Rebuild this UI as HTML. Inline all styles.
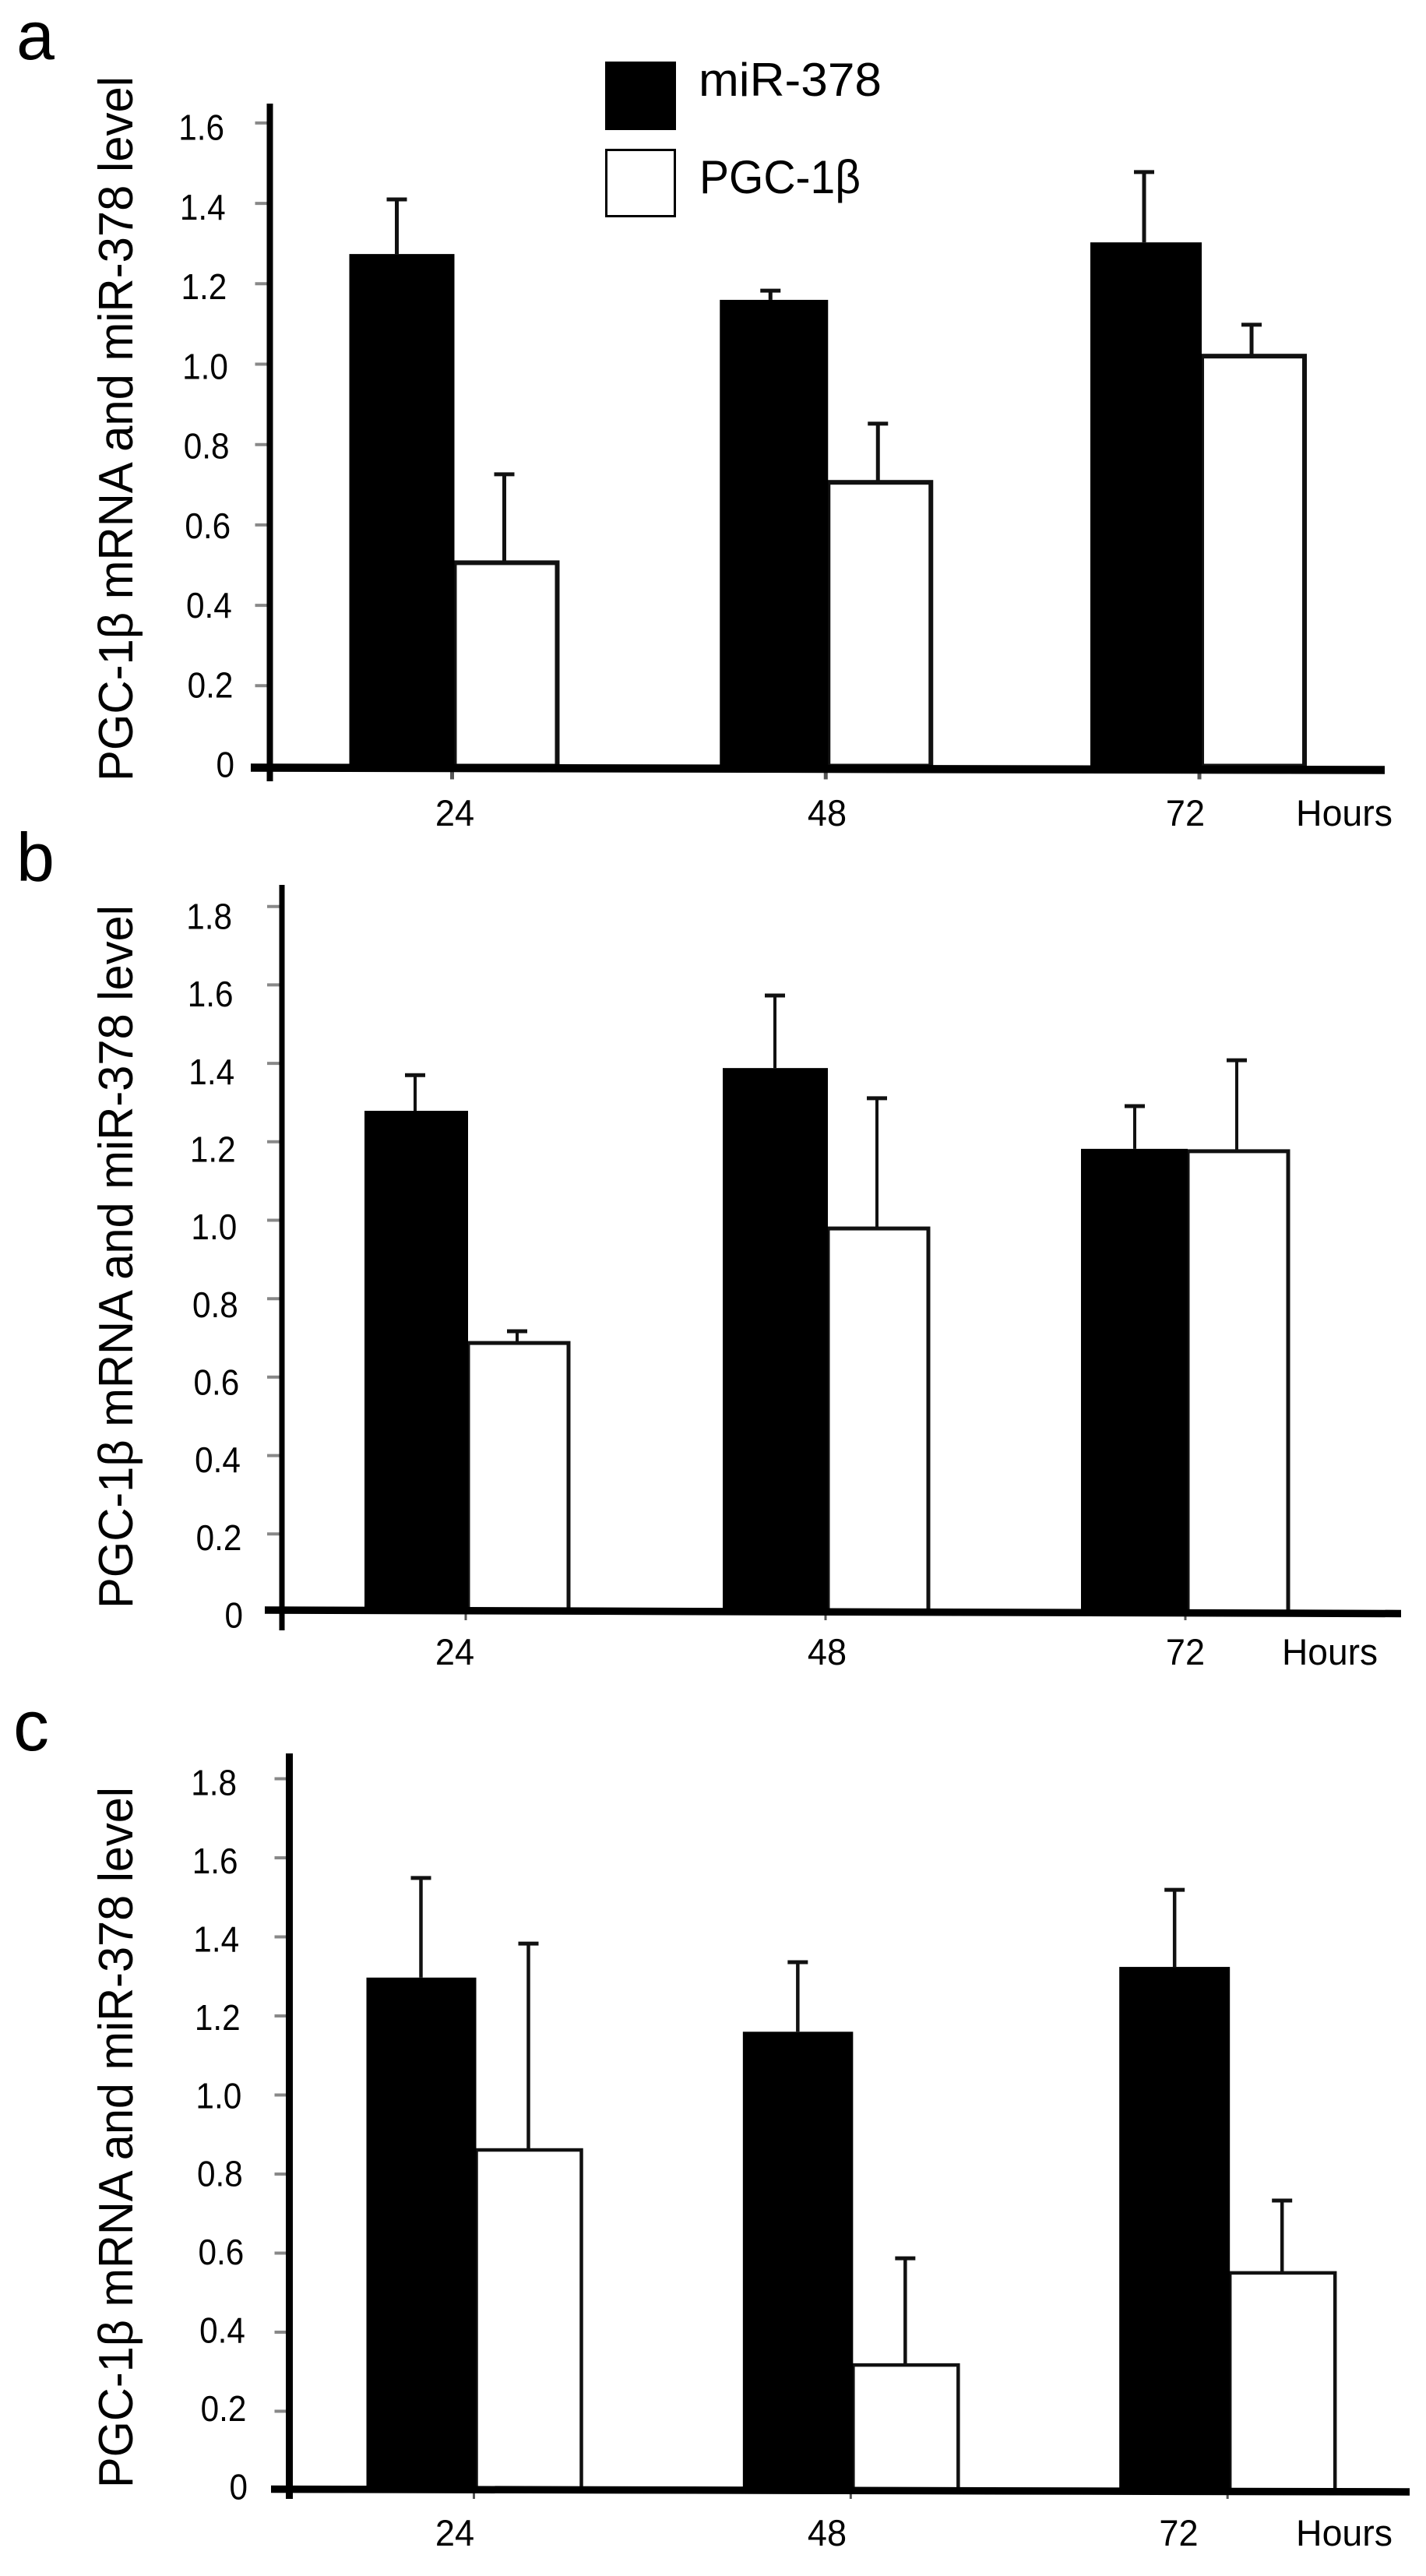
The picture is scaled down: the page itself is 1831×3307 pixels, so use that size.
<!DOCTYPE html>
<html lang="en">
<head>
<meta charset="utf-8">
<title>PGC-1β mRNA and miR-378 level</title>
<style>
  html, body { margin: 0; padding: 0; background: #fff; }
  svg { display: block; }
  text { font-family: "Liberation Sans", "DejaVu Sans", sans-serif; fill: #000; }
</style>
</head>
<body>
<svg id="figure" xmlns="http://www.w3.org/2000/svg" width="1831" height="3307" viewBox="0 0 1831 3307">
  <rect x="0" y="0" width="1831" height="3307" fill="#fff"/>

  <text x="21" y="76" font-size="88">a</text>
  <text x="21" y="1131" font-size="88">b</text>
  <text x="17" y="2247" font-size="92">c</text>

  <text transform="translate(170 1003) rotate(-90)" font-size="62" textLength="905" lengthAdjust="spacingAndGlyphs">PGC-1β mRNA and miR-378 level</text>
  <text transform="translate(170 2065) rotate(-90)" font-size="62" textLength="903" lengthAdjust="spacingAndGlyphs">PGC-1β mRNA and miR-378 level</text>
  <text transform="translate(170 3194) rotate(-90)" font-size="62" textLength="900" lengthAdjust="spacingAndGlyphs">PGC-1β mRNA and miR-378 level</text>

  <g>
    <rect x="777" y="79" width="91" height="88" fill="#000"/>
    <text x="897" y="123" font-size="60" textLength="235" lengthAdjust="spacingAndGlyphs">miR-378</text>
    <rect x="778.5" y="192.5" width="88" height="85" fill="#fff" stroke="#000" stroke-width="3"/>
    <text x="898" y="248" font-size="60" textLength="207" lengthAdjust="spacingAndGlyphs">PGC-1β</text>
  </g>

  <text x="1664" y="1060" font-size="47" textLength="124" lengthAdjust="spacingAndGlyphs">Hours</text>
  <text x="1646" y="2137" font-size="47" textLength="123" lengthAdjust="spacingAndGlyphs">Hours</text>
  <text x="1664" y="3268" font-size="47" textLength="124" lengthAdjust="spacingAndGlyphs">Hours</text>

  <g id="charts"></g>
</svg>

<script>
// Shared categories (hours)
const hours = [24, 48, 72];
const hourLabels = ['24', '48', '72'];

// Panel a
const aTickValues = [1.6, 1.4, 1.2, 1.0, 0.8, 0.6, 0.4, 0.2, 0];
const aTickLabels = ['1.6', '1.4', '1.2', '1.0', '0.8', '0.6', '0.4', '0.2', '0'];
const aMir = [1.274, 1.16, 1.303];
const aMirErr = [1.41, 1.183, 1.478];
const aPgc = [0.506, 0.706, 1.02];
const aPgcErr = [0.726, 0.852, 1.098];

// Panel b
const bTickValues = [1.8, 1.6, 1.4, 1.2, 1.0, 0.8, 0.6, 0.4, 0.2, 0];
const bTickLabels = ['1.8', '1.6', '1.4', '1.2', '1.0', '0.8', '0.6', '0.4', '0.2', '0'];
const bMir = [1.279, 1.388, 1.182];
const bMirErr = [1.37, 1.573, 1.291];
const bPgc = [0.687, 0.979, 1.176];
const bPgcErr = [0.717, 1.311, 1.408];

// Panel c
const cTickValues = [1.8, 1.6, 1.4, 1.2, 1.0, 0.8, 0.6, 0.4, 0.2, 0];
const cTickLabels = ['1.8', '1.6', '1.4', '1.2', '1.0', '0.8', '0.6', '0.4', '0.2', '0'];
const cMir = [1.297, 1.16, 1.324];
const cMirErr = [1.549, 1.336, 1.519];
const cPgc = [0.861, 0.317, 0.55];
const cPgcErr = [1.383, 0.587, 0.733];

const NS = 'http://www.w3.org/2000/svg';
const root = document.getElementById('charts');

function make(tag, parent, attrs) {
  const el = document.createElementNS(NS, tag);
  for (const k in attrs) el.setAttribute(k, attrs[k]);
  parent.appendChild(el);
  return el;
}

function drawPanel(id, layout, tickValues, tickLabels, mir, mirErr, pgc, pgcErr) {
  const g = make('g', root, {});
  
  

  // axis functions
  const y = v => layout.zeroY - layout.pxPerUnit * v;
  const x = h => layout.x24 + (h - 24) * layout.pxPerHour;
  const mirWidth = h => layout.mirW24 + (layout.mirW72 - layout.mirW24) * (h - 24) / 48;

  // y tick marks and labels
  tickValues.forEach((v, i) => {
    if (v !== 0) {
      const tick = make('line', g, { x1: layout.axisX - 19, x2: layout.axisX, y1: y(v), y2: y(v), stroke: '#888', 'stroke-width': 4 });
      
      
    }
    const t = i / (tickValues.length - 1);
    const label = make('text', g, {
      x: layout.labelRightTop + (layout.labelRightBottom - layout.labelRightTop) * t,
      y: layout.labelTop + (layout.labelBottom - layout.labelTop) * t + 16.5,
      'font-size': 46,
      'text-anchor': 'end'
    });
    label.textContent = tickLabels[i];
    
    
    label.setAttribute('textLength', (label.getComputedTextLength() * 0.92).toFixed(1));
    label.setAttribute('lengthAdjust', 'spacingAndGlyphs');
  });

  // bars and error bars
  hours.forEach((h, i) => {
    const cx = x(h);
    const base = y(0);
    const mw = mirWidth(h);
    const mirX = cx + layout.mirStem;
    const pgcX = cx + layout.pgcStem;

    const mirStem = make('line', g, { x1: mirX, x2: mirX, y1: y(mirErr[i]), y2: y(mir[i]), stroke: '#111', 'stroke-width': layout.stem });
    
    
    const mirCap = make('line', g, { x1: mirX - 13, x2: mirX + 13, y1: y(mirErr[i]), y2: y(mirErr[i]), stroke: '#111', 'stroke-width': 5 });
    
    

    const pgcStem = make('line', g, { x1: pgcX, x2: pgcX, y1: y(pgcErr[i]), y2: y(pgc[i]), stroke: '#111', 'stroke-width': layout.stem });
    
    
    const pgcCap = make('line', g, { x1: pgcX - 13, x2: pgcX + 13, y1: y(pgcErr[i]), y2: y(pgcErr[i]), stroke: '#111', 'stroke-width': 5 });
    
    

    const pgcBar = make('rect', g, { x: cx, y: y(pgc[i]), width: layout.pgcW, height: base - y(pgc[i]), fill: '#fff', stroke: '#111', 'stroke-width': layout.border });
    
    

    const mirBar = make('rect', g, { x: cx - mw, y: y(mir[i]), width: mw, height: base - y(mir[i]), fill: '#000' });
    
    

    const xTick = make('line', g, { x1: cx - 3, x2: cx - 3, y1: base, y2: base + layout.tickDrop, stroke: '#555', 'stroke-width': layout.tickW });
    
    

    const xLabel = make('text', g, { x: layout.labelCenter[h], y: layout.xLabelY, 'font-size': 47, 'text-anchor': 'middle' });
    xLabel.textContent = hourLabels[i];
    
    
    xLabel.setAttribute('textLength', (xLabel.getComputedTextLength() * 0.96).toFixed(1));
    xLabel.setAttribute('lengthAdjust', 'spacingAndGlyphs');
  });

  // axes
  const yAxis = make('line', g, { x1: layout.axisX, x2: layout.axisX, y1: layout.axisTop, y2: layout.axisBottom, stroke: '#000', 'stroke-width': layout.axisW });
  
  
  const xAxis = make('line', g, { x1: layout.xAxisLeft, x2: layout.xAxisRight, y1: layout.xAxisYLeft, y2: layout.xAxisYRight, stroke: '#000', 'stroke-width': layout.xAxisW });
  
  
}

drawPanel('a', {
  zeroY: 983.5, pxPerUnit: 516, x24: 583.5, pxPerHour: 19.99, mirW24: 135, mirW72: 143, pgcW: 132,
  mirStem: -74, pgcStem: 64,
  axisX: 346.5, axisW: 8, axisTop: 133, axisBottom: 1003,
  xAxisLeft: 322, xAxisRight: 1778, xAxisYLeft: 985.5, xAxisYRight: 988.5, xAxisW: 10.5,
  labelTop: 163, labelBottom: 981, labelRightTop: 288, labelRightBottom: 301,
  labelCenter: { 24: 584, 48: 1062, 72: 1522 }, xLabelY: 1060, stem: 5, border: 6, tickDrop: 17, tickW: 5
}, aTickValues, aTickLabels, aMir, aMirErr, aPgc, aPgcErr);

drawPanel('b', {
  zeroY: 2070, pxPerUnit: 503.5, x24: 601, pxPerHour: 19.25, mirW24: 133, mirW72: 137, pgcW: 129,
  mirStem: -68, pgcStem: 63,
  axisX: 362, axisW: 7, axisTop: 1136, axisBottom: 2093,
  xAxisLeft: 340, xAxisRight: 1799, xAxisYLeft: 2067, xAxisYRight: 2071.5, xAxisW: 9.5,
  labelTop: 1176, labelBottom: 2073, labelRightTop: 298, labelRightBottom: 312,
  labelCenter: { 24: 584, 48: 1062, 72: 1522 }, xLabelY: 2137, stem: 4, border: 5, tickDrop: 10, tickW: 3
}, bTickValues, bTickLabels, bMir, bMirErr, bPgc, bPgcErr);

drawPanel('c', {
  zeroY: 3197, pxPerUnit: 507.5, x24: 611.5, pxPerHour: 20.16, mirW24: 141, mirW72: 142, pgcW: 135,
  mirStem: -71, pgcStem: 67,
  axisX: 371.5, axisW: 9, axisTop: 2251, axisBottom: 3208,
  xAxisLeft: 348, xAxisRight: 1810, xAxisYLeft: 3195.5, xAxisYRight: 3199, xAxisW: 9.5,
  labelTop: 2288, labelBottom: 3192, labelRightTop: 304, labelRightBottom: 318,
  labelCenter: { 24: 584, 48: 1062, 72: 1513.5 }, xLabelY: 3268, stem: 4.5, border: 4.5, tickDrop: 11, tickW: 3
}, cTickValues, cTickLabels, cMir, cMirErr, cPgc, cPgcErr);
</script>
</body>
</html>
